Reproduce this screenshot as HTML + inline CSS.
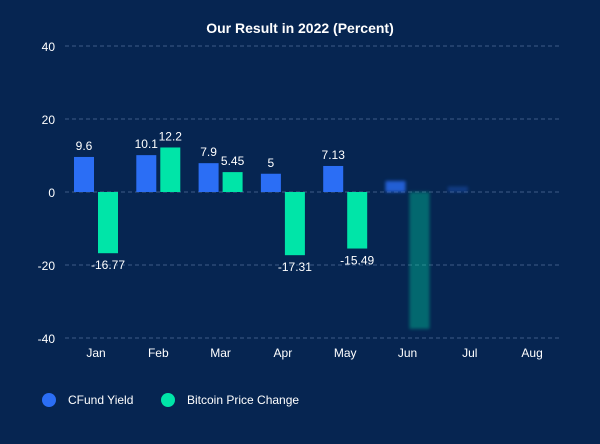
<!DOCTYPE html>
<html><head><meta charset="utf-8"><style>
body{margin:0;background:#062551;}
svg{display:block;font-family:"Liberation Sans",sans-serif;}
</style></head><body>
<svg id="c" width="600" height="444">
<defs><filter id="bl" x="-50%" y="-50%" width="200%" height="200%"><feGaussianBlur stdDeviation="1.5"/></filter></defs>
<rect width="600" height="444" fill="#062551"/>
<text x="300" y="33" text-anchor="middle" fill="#fff" font-size="14" font-weight="bold">Our Result in 2022 (Percent)</text>
<g id="grid"></g><g id="bars"></g><g id="labels"></g>
<g>
<circle cx="49" cy="400" r="7" fill="#2b6ef5"/>
<text x="68" y="404" fill="#fff" font-size="12">CFund Yield</text>
<circle cx="168" cy="400" r="7" fill="#00e5a8"/>
<text x="187" y="404" fill="#fff" font-size="12">Bitcoin Price Change</text>
</g>
</svg>
<script>
const categories=["Jan","Feb","Mar","Apr","May","Jun","Jul","Aug"];
const cfund=[9.6,10.1,7.9,5,7.13,3,1.5,null];
const bitcoin=[-16.77,12.2,5.45,-17.31,-15.49,-37.5,null,null];
const labeledCount=5;
const yTicks=[40,20,0,-20,-40];
const NS="http://www.w3.org/2000/svg";
const y=v=>192-v*3.65;
const xc=i=>96+i*62.3;
function mk(t,a,p){const e=document.createElementNS(NS,t);for(const k in a)e.setAttribute(k,a[k]);p.appendChild(e);return e;}
const grid=document.getElementById('grid'),bars=document.getElementById('bars'),labels=document.getElementById('labels');
yTicks.forEach(v=>{
 const l=mk('line',{x1:65,x2:562,y1:y(v),y2:y(v),stroke:'#3f5c86','stroke-dasharray':'4 3','stroke-width':1},grid);
 
 
 const t=mk('text',{x:55,y:y(v)+5,'text-anchor':'end',fill:'#fff','font-size':12},grid);t.textContent=v;
 
 
});
categories.forEach((c,i)=>{
 const t=mk('text',{x:xc(i),y:357,'text-anchor':'middle',fill:'#fff','font-size':12},labels);t.textContent=c;
 
 
 [[cfund,'#2b6ef5',-22,'cfund'],[bitcoin,'#00e5a8',2,'bitcoin']].forEach(([arr,col,off,nm])=>{
  const v=arr[i];if(v==null)return;
  const faded=i>=labeledCount;
  const r=mk('rect',{x:xc(i)+off,y:Math.min(y(v),y(0)),width:20,height:Math.abs(y(v)-y(0)),fill:col},bars);
  if(faded){r.setAttribute('filter','url(#bl)');r.setAttribute('opacity',nm==='bitcoin'?0.35:(i===5?0.8:0.3));}
  
  
  if(!faded){
   const ty=v>=0?y(v)-7:y(v)+16;
   const lt=mk('text',{x:xc(i)+off+10,y:ty,'text-anchor':'middle',fill:'#fff','font-size':12},labels);lt.textContent=v;
   
   
  }
 });
});
</script>
</body></html>
